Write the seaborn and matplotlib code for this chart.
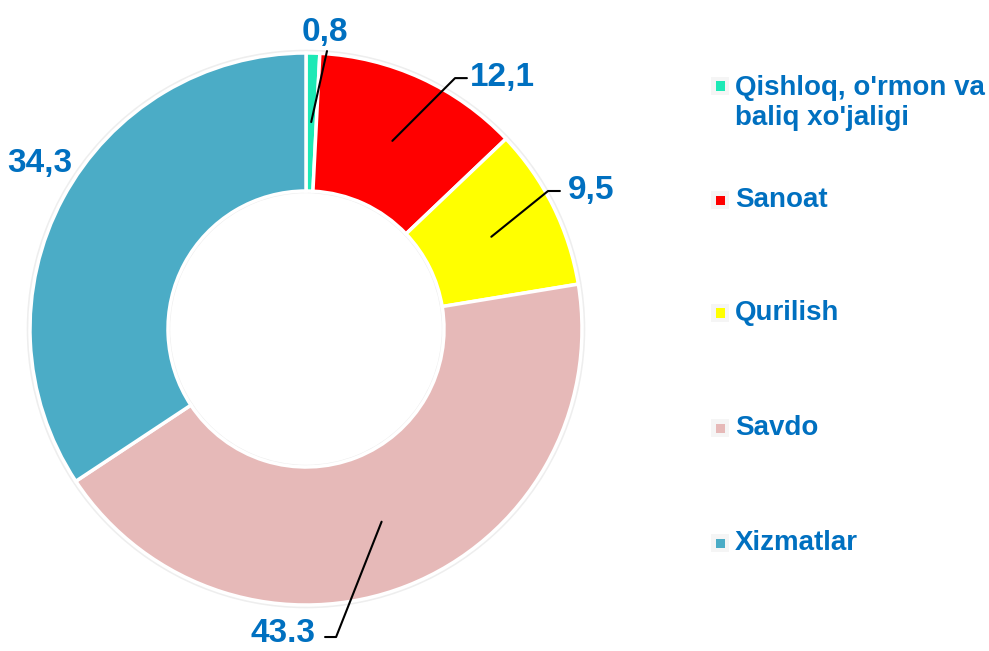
import numpy as np
import matplotlib.pyplot as plt
import seaborn as sns

# data
categories = ["Qishloq, o'rmon va\nbaliq xo'jaligi", "Sanoat", "Qurilish", "Savdo", "Xizmatlar"]
values = [0.8, 12.1, 9.5, 43.3, 34.3]
value_labels = ["0,8", "12,1", "9,5", "43.3", "34,3"]
colors = ["#1DE9B6", "#FF0000", "#FFFF00", "#E6B9B8", "#4BACC6"]

TEXT_BLUE = "#0070C0"
FONT = ["Liberation Sans", "DejaVu Sans"]

# label placement (in units of the outer radius): text pos, ha, leader line points
LABEL_POS = [(0.069, 1.075, "center"), (0.594, 0.913, "left"), (0.949, 0.503, "left"),
             (0.033, -1.105, "right"), (-0.964, 0.601, "center")]
LEADERS = [[(0.076, 1.007)],
           [(0.540, 0.909), (0.583, 0.909)],
           [(0.877, 0.500), (0.920, 0.500)],
           [(0.109, -1.116), (0.069, -1.116)],
           None]

sns.set_theme(style="white")
plt.rcParams['font.family'] = FONT

W, H = 989, 651
fig = plt.figure(figsize=(W / 100, H / 100), dpi=100)
cx, cy, R = 306, 329, 276
ax = fig.add_axes([(cx - R) / W, (H - cy - R) / H, 2 * R / W, 2 * R / H])

palette = sns.color_palette(colors)

# faint shadow ring
ax.pie([1], radius=1.012, colors=["#EEEEEE"], startangle=90,
       wedgeprops=dict(width=0.52, edgecolor="none"))
wedges, _ = ax.pie(values, colors=palette, startangle=90, counterclock=False,
                   radius=1.0, wedgeprops=dict(width=0.5, edgecolor="white", linewidth=2.5))
ax.set_xlim(-1, 1)
ax.set_ylim(-1, 1)
ax.set_aspect("equal")
ax.axis("off")

for w, lab, (tx, ty, ha), lead in zip(wedges, value_labels, LABEL_POS, LEADERS):
    ang = np.deg2rad((w.theta1 + w.theta2) / 2)
    sx, sy = 0.75 * np.cos(ang), 0.75 * np.sin(ang)
    if lead is not None:
        xs = [sx] + [p[0] for p in lead]
        ys = [sy] + [p[1] for p in lead]
        ax.plot(xs, ys, color="black", linewidth=1.5, clip_on=False)
    ax.text(tx, ty, lab, ha=ha, va="center", fontsize=24, fontweight="bold",
            color=TEXT_BLUE, clip_on=False)

# legend drawn manually to match spacing
leg_y = [86, 200, 313, 428, 543]
text_y = [103, 200, 313, 428, 543]
for cat, col, y, ty in zip(categories, palette, leg_y, text_y):
    fy = 1 - y / H
    fig.patches.append(plt.Rectangle((711 / W, fy - 9 / H), 18 / W, 18 / H,
                                     transform=fig.transFigure, facecolor="#F5F5F5",
                                     edgecolor="none"))
    fig.patches.append(plt.Rectangle((716 / W, fy - 4.5 / H), 9 / W, 9 / H,
                                     transform=fig.transFigure, facecolor=col,
                                     edgecolor="none"))
    fig.text(735 / W, 1 - ty / H, cat, ha="left", va="center", fontsize=20,
             fontweight="bold", color=TEXT_BLUE, linespacing=1.2)

fig.savefig("out.png", dpi=100)
